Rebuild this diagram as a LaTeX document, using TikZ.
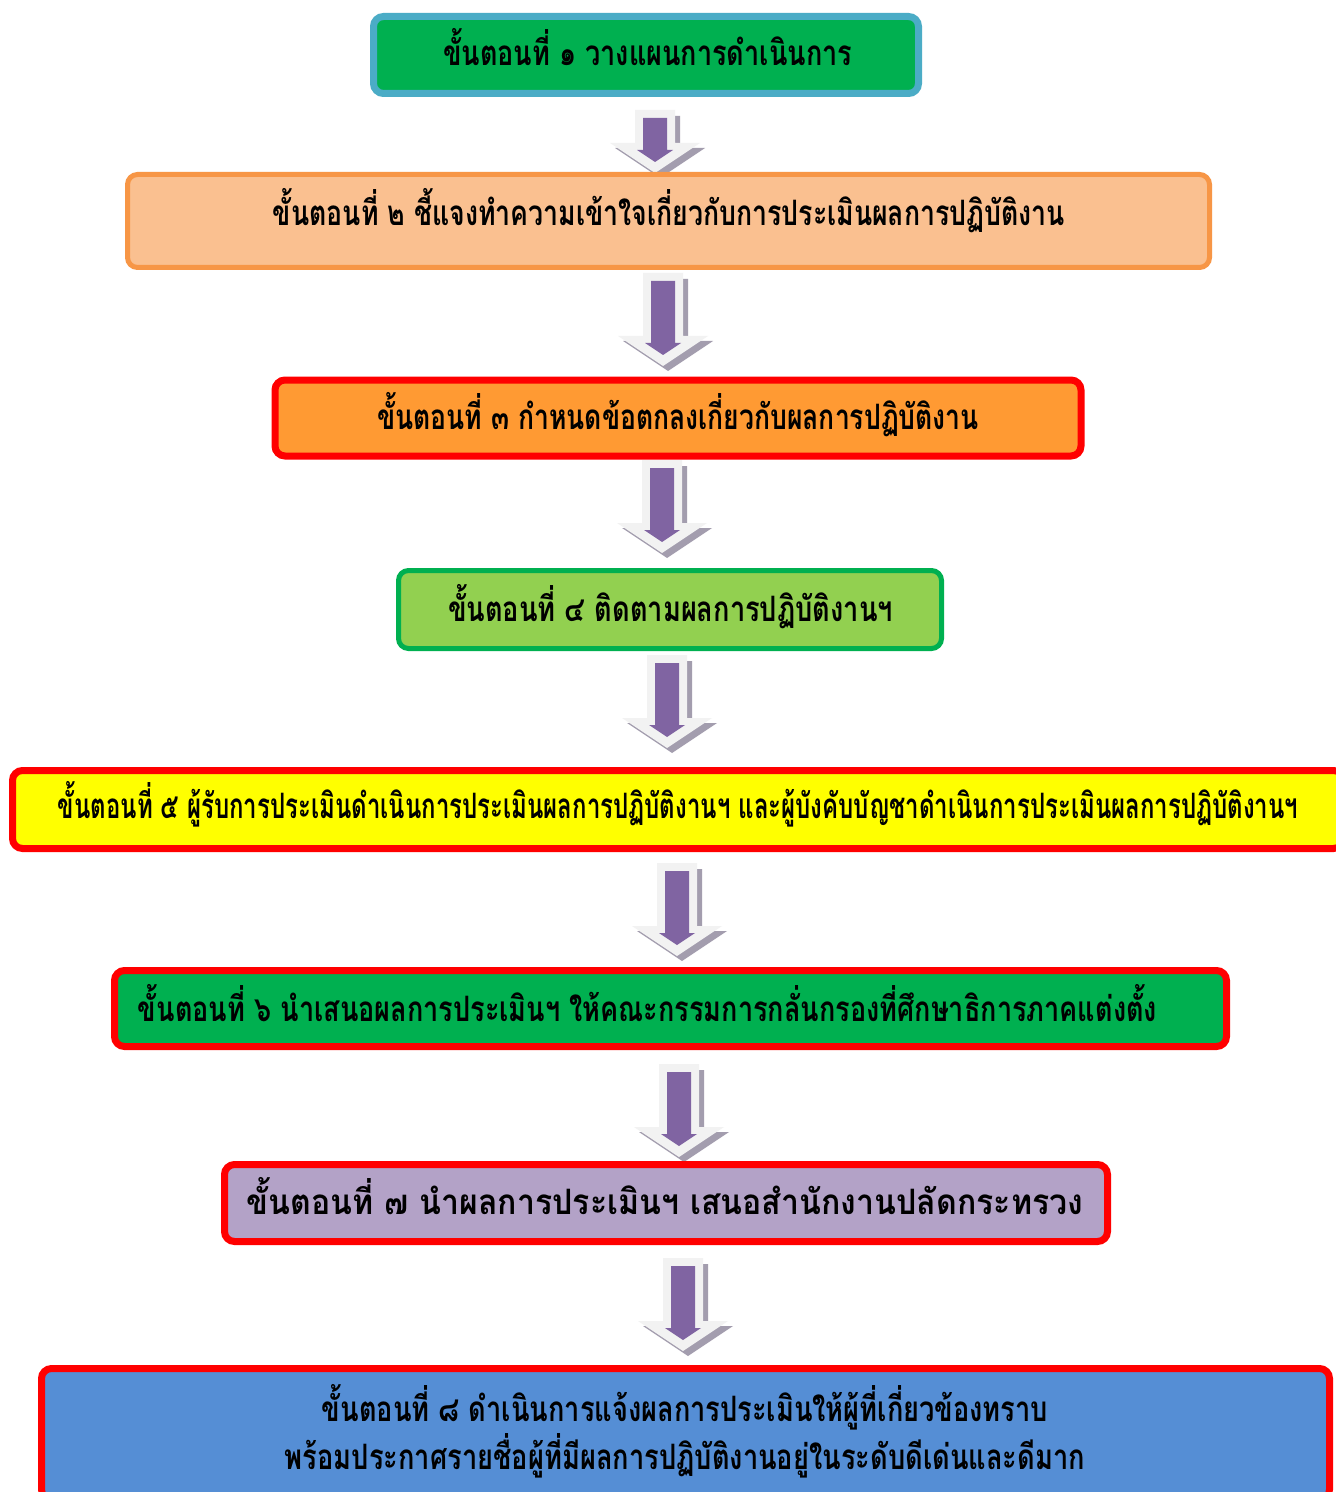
\documentclass[tikz,border=0pt]{standalone}
\usepackage{fontspec}
\usepackage{graphicx}
\newfontfamily\thaifont[Script=Thai]{Loma}
\newlength\pxu
\setlength\pxu{0.5pt}
\newcommand\fitw[2]{\resizebox{#1\pxu}{\height}{#2}}
\definecolor{cgreen}{HTML}{00B050}
\definecolor{cblue}{HTML}{4BACC6}
\definecolor{cpeach}{HTML}{FAC090}
\definecolor{corangeb}{HTML}{F79646}
\definecolor{corange}{HTML}{FF9A33}
\definecolor{clime}{HTML}{92D050}
\definecolor{cyellow}{HTML}{FFFF00}
\definecolor{clilac}{HTML}{B3A2C7}
\definecolor{csky}{HTML}{558ED5}
\definecolor{cred}{HTML}{FF0000}
\definecolor{cpurple}{HTML}{8064A2}
\definecolor{carrout}{HTML}{F2F2F2}
\definecolor{carrshad}{HTML}{A39DAE}
\tikzset{
  stepbox/.style={rectangle, rounded corners=5pt, line width=3.5pt, inner sep=0pt, outer sep=0pt},
  thintxt/.style={inner sep=0pt, outer sep=0pt, anchor=base, font=\thaifont\bfseries\fontsize{17.5pt}{20pt}\selectfont},
}
\newcommand\blockarr[3]{%
  \begin{scope}[shift={(#1,#2)}]
    \fill[carrshad] (-15,6) -- (25,6) -- (25,#3+5) -- (50,#3+5) -- (5,#3+35) -- (-40,#3+5) -- (-15,#3+5) -- cycle;
    \fill[carrout] (-20,0) -- (20,0) -- (20,#3) -- (45,#3) -- (0,#3+30) -- (-45,#3) -- (-20,#3) -- cycle;
    \fill[cpurple] (-12,8) -- (12,8) -- (12,#3+7) -- (18,#3+7) -- (0,#3+19) -- (-18,#3+7) -- (-12,#3+7) -- cycle;
  \end{scope}}
\begin{document}
\begin{tikzpicture}[x=0.5pt, y=-0.5pt]
\useasboundingbox (0,0) rectangle (1335,1492);
\fill[white] (0,0) rectangle (1335,1492);
% block arrows
\blockarr{655}{110}{33}
\blockarr{663}{273}{63}
\blockarr{662}{460}{63}
\blockarr{667}{655}{63}
\blockarr{677}{863}{63}
\blockarr{679}{1064}{63}
\blockarr{683}{1258}{63}
% boxes
\node[stepbox, fill=cgreen, draw=cblue, minimum width=272.5pt, minimum height=38.5pt] (b1) at (646,55) {};
\node[stepbox, fill=cpeach, draw=corangeb, line width=2.5pt, minimum width=541pt, minimum height=46.5pt] (b2) at (668.5,221) {};
\node[stepbox, fill=corange, draw=cred, minimum width=403pt, minimum height=38pt] (b3) at (678,418) {};
\node[stepbox, fill=clime, draw=cgreen, line width=2.5pt, minimum width=271.5pt, minimum height=39pt] (b4) at (670,609.5) {};
\node[stepbox, fill=cyellow, draw=cred, minimum width=665.5pt, minimum height=39pt] (b5) at (678,809.5) {};
\node[stepbox, fill=cgreen, draw=cred, minimum width=556pt, minimum height=38pt] (b6) at (670.5,1008.5) {};
\node[stepbox, fill=clilac, draw=cred, minimum width=441.5pt, minimum height=38.5pt] (b7) at (666,1203) {};
\node[stepbox, fill=csky, draw=cred, line width=3.5pt, minimum width=644pt, minimum height=65.5pt] (b8) at (685.5,1434) {};
% texts
\node[thintxt] (t1) at (647.5,66) {\fitw{409}{ขั้นตอนที่ ๑ วางแผนการดำเนินการ}};
\node[thintxt] (t2) at (669,226) {\fitw{792}{ขั้นตอนที่ ๒ ชี้แจงทำความเข้าใจเกี่ยวกับการประเมินผลการปฏิบัติงาน}};
\node[thintxt] (t3) at (678,429) {\fitw{602}{ขั้นตอนที่ ๓ กำหนดข้อตกลงเกี่ยวกับผลการปฏิบัติงาน}};
\node[thintxt] (t4) at (670.5,621) {\fitw{445}{ขั้นตอนที่ ๔ ติดตามผลการปฏิบัติงานฯ}};
\node[thintxt] (t5) at (678,818) {\fitw{1240}{ขั้นตอนที่ ๕ ผู้รับการประเมินดำเนินการประเมินผลการปฏิบัติงานฯ และผู้บังคับบัญชาดำเนินการประเมินผลการปฏิบัติงานฯ}};
\node[thintxt] (t6) at (647.5,1021) {\fitw{1019}{ขั้นตอนที่ ๖ นำเสนอผลการประเมินฯ ให้คณะกรรมการกลั่นกรองที่ศึกษาธิการภาคแต่งตั้ง}};
\node[thintxt] (t7) at (665,1214) {\fitw{836}{ขั้นตอนที่ ๗ นำผลการประเมินฯ เสนอสำนักงานปลัดกระทรวง}};
\node[thintxt] (t8a) at (685,1421) {\fitw{726}{ขั้นตอนที่ ๘ ดำเนินการแจ้งผลการประเมินให้ผู้ที่เกี่ยวข้องทราบ}};
\node[thintxt] (t8b) at (685,1469) {\fitw{800}{พร้อมประกาศรายชื่อผู้ที่มีผลการปฏิบัติงานอยู่ในระดับดีเด่นและดีมาก}};
\end{tikzpicture}
\end{document}
